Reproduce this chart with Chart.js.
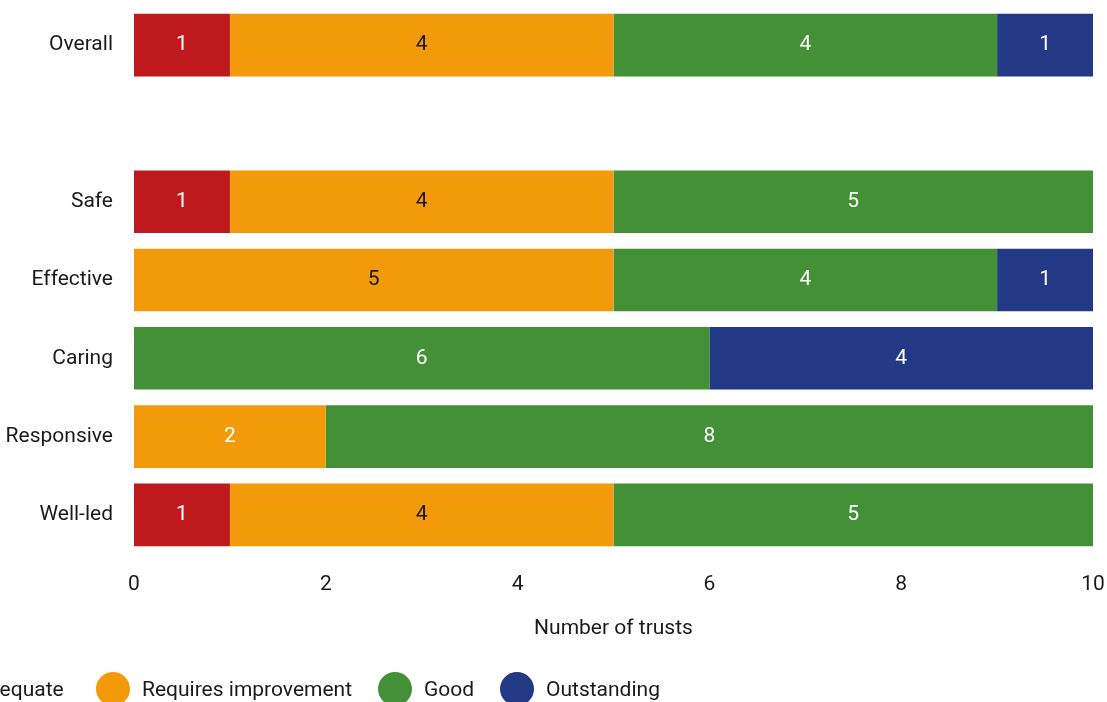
<!DOCTYPE html>
<html>
<head>
<meta charset="utf-8">
<script src="https://cdn.jsdelivr.net/npm/chart.js@4"></script>
<style>
    html, body { margin: 0; padding: 0; background: #fff; overflow: hidden; }
    #wrap { position: relative; width: 1107px; height: 702px; }
    #legend { position: absolute; left: 0; top: 0; width: 1107px; height: 702px; pointer-events: none;
              font-family: Roboto, sans-serif; font-size: 21px; color: #1a1a1a; }
    .lg-item { position: absolute; top: 672px; display: flex; align-items: center; white-space: nowrap; height: 34px; }
    .lg-dot { width: 34px; height: 34px; border-radius: 50%; margin-right: 12px; flex: none; }
</style>
</head>
<body>
<div id="wrap">
    <canvas id="chart"></canvas>
    <div id="legend"></div>
</div>
<script>
// Categories (blank row separates Overall from the key questions)
const categories = ['Overall', '', 'Safe', 'Effective', 'Caring', 'Responsive', 'Well-led'];

// Number of trusts per rating
const inadequate  = [1, null, 1, 0, 0, 0, 1];
const requiresImp = [4, null, 4, 5, 0, 2, 4];
const good        = [4, null, 5, 4, 6, 8, 5];
const outstanding = [1, null, 0, 1, 4, 0, 0];

const xTicks = [0, 2, 4, 6, 8, 10];

const FONT = 'Roboto, sans-serif';
const TEXT = '#1a1a1a';

// Label colour inside each bar (the Responsive orange bar has a white label)
const labelColours = {
    'Inadequate': categories.map(() => '#ffffff'),
    'Requires improvement': categories.map(c => c === 'Responsive' ? '#ffffff' : '#1a1a1a'),
    'Good': categories.map(() => '#ffffff'),
    'Outstanding': categories.map(() => '#ffffff')
};

// Draw the count in the middle of each segment
const barLabels = {
    id: 'barLabels',
    afterDatasetsDraw(chart) {
        const ctx = chart.ctx;
        ctx.save();
        ctx.font = '21px ' + FONT;
        ctx.textAlign = 'center';
        ctx.textBaseline = 'middle';
        chart.data.datasets.forEach((ds, di) => {
            const meta = chart.getDatasetMeta(di);
            meta.data.forEach((bar, i) => {
                const v = ds.data[i];
                if (!v) return;
                ctx.fillStyle = labelColours[ds.label][i];
                ctx.fillText(String(v), (bar.x + bar.base) / 2, bar.y);
            });
        });
        ctx.restore();
    }
};

// no extra room for labels sticking out past the plot edges
function noOverflow(s) {
    s.paddingTop = 0;
    s.paddingBottom = 0;
    s.paddingLeft = 0;
    s.paddingRight = 0;
}

const chart = new Chart(document.getElementById('chart'), {
    type: 'bar',
    data: {
        labels: categories,
        datasets: [
            { label: 'Inadequate', data: inadequate, backgroundColor: '#be1a1d' },
            { label: 'Requires improvement', data: requiresImp, backgroundColor: '#f39a0a' },
            { label: 'Good', data: good, backgroundColor: '#449036' },
            { label: 'Outstanding', data: outstanding, backgroundColor: '#233985' }
        ]
    },
    options: {
        indexAxis: 'y',
        responsive: true,
        maintainAspectRatio: false,
        animation: false,
        devicePixelRatio: 1,
        layout: { padding: { top: 6, right: 14, bottom: 0, left: 0 } },
        datasets: { bar: { categoryPercentage: 0.8, barPercentage: 1, borderWidth: 0 } },
        plugins: {
            legend: { display: false },
            tooltip: { enabled: false }
        },
        scales: {
            x: {
                stacked: true,
                min: 0,
                max: 10,
                afterBuildTicks: s => { s.ticks = xTicks.map(v => ({ value: v })); },
                grid: { display: false, drawTicks: false },
                border: { display: false },
                ticks: { padding: 18, color: TEXT, font: { family: FONT, size: 21 } },
                title: {
                    display: true,
                    text: 'Number of trusts',
                    color: TEXT,
                    font: { family: FONT, size: 21 },
                    padding: { top: 0, bottom: 61 }
                },
                afterFit: s => { s.height = 148; noOverflow(s); }
            },
            y: {
                stacked: true,
                grid: { display: false, drawTicks: false },
                border: { display: false },
                ticks: { padding: 21, color: TEXT, font: { family: FONT, size: 21 } },
                afterFit: s => { s.width = 134; noOverflow(s); }
            }
        }
    },
    plugins: [barLabels]
});

// HTML legend along the bottom (left item runs off the page as in the source)
const legendLefts = [null, 96, 378, 500];
const legend = document.getElementById('legend');
chart.data.datasets.forEach((ds, i) => {
    const item = document.createElement('div');
    item.className = 'lg-item';
    const dot = document.createElement('span');
    dot.className = 'lg-dot';
    dot.style.background = ds.backgroundColor;
    const txt = document.createElement('span');
    txt.textContent = ds.label;
    item.appendChild(dot);
    item.appendChild(txt);
    legend.appendChild(item);
    if (legendLefts[i] === null) {
        item.style.left = (64 - item.offsetWidth) + 'px';
    } else {
        item.style.left = legendLefts[i] + 'px';
    }
});
</script>
</body>
</html>
